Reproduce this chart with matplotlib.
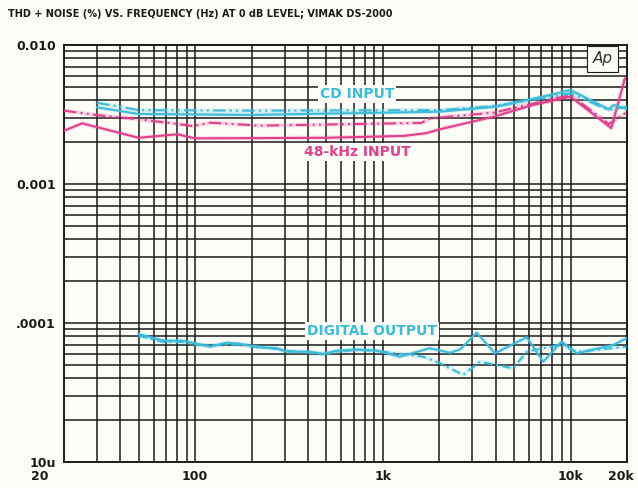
import numpy as np
import matplotlib
matplotlib.use("Agg")
import matplotlib.pyplot as plt
import matplotlib.transforms as mtransforms

# THD+N vs frequency
cd_solid_freq = [30, 50, 200, 2000, 4000, 7000, 10000, 16000, 17000, 20000]
cd_solid_thd = [0.00356, 0.00319, 0.00314, 0.00331, 0.0036, 0.00423, 0.00474, 0.00345, 0.0037, 0.00346]

cd_dd_freq = [30, 50, 200, 2000, 4000, 10000, 16000, 20000]
cd_dd_thd = [0.00384, 0.0034, 0.00337, 0.0034, 0.00364, 0.00449, 0.0034, 0.0036]

k48_solid_freq = [20, 25, 50, 80, 100, 500, 1300, 1700, 2000, 3900, 6300, 10000, 16500, 19500]
k48_solid_thd = [0.00242, 0.00273, 0.00215, 0.00228, 0.00213, 0.00215, 0.00222, 0.00232, 0.00247,
                 0.00305, 0.0037, 0.00425, 0.00252, 0.00576]

k48_dd_freq = [20, 30, 50, 76, 97, 120, 160, 220, 1600, 1800, 3900, 10000, 16000, 20000]
k48_dd_thd = [0.00337, 0.00313, 0.00292, 0.00273, 0.00261, 0.00276, 0.0027, 0.00263, 0.00275,
              0.00297, 0.00326, 0.00437, 0.0027, 0.0033]

dig_solid_freq = [50, 68, 86, 100, 120, 147, 173, 213, 272, 307, 409, 481, 568, 725, 927,
                  1230, 1780, 2280, 2580, 3160, 3960, 5840, 7160, 8970, 10800, 16900, 19900]
dig_solid_thd = [8.33e-5, 7.46e-5, 7.46e-5, 7.14e-5, 6.75e-5, 7.22e-5, 7.09e-5, 6.69e-5, 6.58e-5,
                 6.22e-5, 6.22e-5, 5.98e-5, 6.32e-5, 6.45e-5, 6.32e-5, 5.72e-5, 6.58e-5, 6.11e-5,
                 6.45e-5, 8.51e-5, 6.05e-5, 7.89e-5, 5.27e-5, 7.34e-5, 6.05e-5, 6.95e-5, 7.76e-5]

dig_dash_freq = [50, 68, 86, 100, 120, 150, 173, 213, 272, 307, 409, 481, 568, 725, 927,
                 1230, 1640, 2020, 2680, 3290, 4950, 5840, 8970, 10800, 16900, 19900]
dig_dash_thd = [8.1e-5, 7.3e-5, 7.3e-5, 7.0e-5, 6.9e-5, 7.0e-5, 7.0e-5, 6.8e-5, 6.5e-5, 6.3e-5,
                6.1e-5, 6.0e-5, 6.2e-5, 6.4e-5, 6.3e-5, 6.0e-5, 5.72e-5, 5.13e-5, 4.23e-5,
                5.27e-5, 4.72e-5, 6.22e-5, 7.0e-5, 6.2e-5, 6.6e-5, 6.75e-5]

x_ticks = [20, 100, 1000, 10000, 20000]
x_labels = ["20", "100", "1k", "10k", "20k"]
y_ticks = [1e-5, 1e-4, 1e-3, 1e-2]
y_labels = ["10u", ".0001", "0.001", "0.010"]

title = "THD + NOISE (%) VS. FREQUENCY (Hz) AT 0 dB LEVEL; VIMAK DS-2000"

CYAN = "#3cbcd8"
PINK = "#e2408c"
BG = "#fdfdf8"
INK = "#1a1a1a"

fig = plt.figure(figsize=(6.38, 4.88), dpi=100, facecolor=BG)
ax = fig.add_axes([64 / 638, 1 - 462 / 488, (627 - 64) / 638, (462 - 45) / 488])
ax.set_facecolor(BG)
ax.set_xscale("log")
ax.set_yscale("log")
ax.set_xlim(20, 20000)
ax.set_ylim(1e-5, 1e-2)

# dense black grid at every 1..9 step of each decade
for dec in [10, 100, 1000, 10000]:
    for m in range(1, 10):
        f = dec * m
        if 20 < f < 20000:
            ax.axvline(f, color=INK, lw=1.1, zorder=1)
for dec in [1e-5, 1e-4, 1e-3]:
    for m in range(1, 10):
        v = dec * m
        if v > 1e-5:
            ax.axhline(v, color=INK, lw=1.1, zorder=1)


# curves: soft halo below each line like the printed original
def trace(x, y, color, ls):
    ax.plot(x, y, color=color, lw=3.2, alpha=0.18, ls="-", zorder=3,
            solid_capstyle="round")
    ax.plot(x, y, color=color, lw=1.5, ls=ls, zorder=4)


trace(k48_dd_freq, k48_dd_thd, PINK, (0, (6, 2, 1, 2, 1, 2)))
trace(k48_solid_freq, k48_solid_thd, PINK, "-")
trace(cd_dd_freq, cd_dd_thd, CYAN, (0, (6, 2, 1, 2, 1, 2)))
trace(cd_solid_freq, cd_solid_thd, CYAN, "-")
trace(dig_dash_freq, dig_dash_thd, CYAN, (0, (4, 2, 1, 2)))
trace(dig_solid_freq, dig_solid_thd, CYAN, "-")

box = dict(facecolor=BG, edgecolor="none", pad=1.5)
lab_kw = dict(fontsize=10, fontweight="bold", ha="center", va="center",
              zorder=6, bbox=box)
fig.text(357 / 638, 1 - 94 / 488, "CD INPUT", color=CYAN, **lab_kw)
fig.text(357 / 638, 1 - 152 / 488, "48-kHz INPUT", color=PINK, **lab_kw)
fig.text(372 / 638, 1 - 331 / 488, "DIGITAL OUTPUT", color=CYAN, **lab_kw)

# "Ap" tag in the top right corner
ax.text(0.975, 0.985, "Ap", transform=ax.transAxes, ha="right", va="top",
        fontsize=11, style="italic", color="#333333", zorder=6,
        bbox=dict(facecolor=BG, edgecolor=INK, lw=0.8, pad=4))

ax.set_xticks(x_ticks)
ax.set_xticklabels(x_labels)
ax.set_yticks(y_ticks)
ax.set_yticklabels(y_labels)
ax.minorticks_off()
ax.tick_params(length=0, labelsize=9, colors=INK)
ax.tick_params(axis="x", pad=6)
ax.tick_params(axis="y", pad=6)
for t in ax.get_xticklabels() + ax.get_yticklabels():
    t.set_fontweight("bold")
# the "20" label sits left of the frame in the original, "20k" hugs the right edge
xl = ax.get_xticklabels()
xl[0].set_transform(xl[0].get_transform()
                    + mtransforms.ScaledTranslation(-0.24, 0, fig.dpi_scale_trans))
xl[-1].set_transform(xl[-1].get_transform()
                     + mtransforms.ScaledTranslation(-0.06, 0, fig.dpi_scale_trans))

for s in ax.spines.values():
    s.set_linewidth(1.4)
    s.set_color(INK)

fig.text(8 / 638, 1 - 14 / 488, title, fontsize=7, fontweight="bold",
         color=INK, ha="left", va="center")

fig.savefig("out.png", dpi=100, facecolor=BG)
